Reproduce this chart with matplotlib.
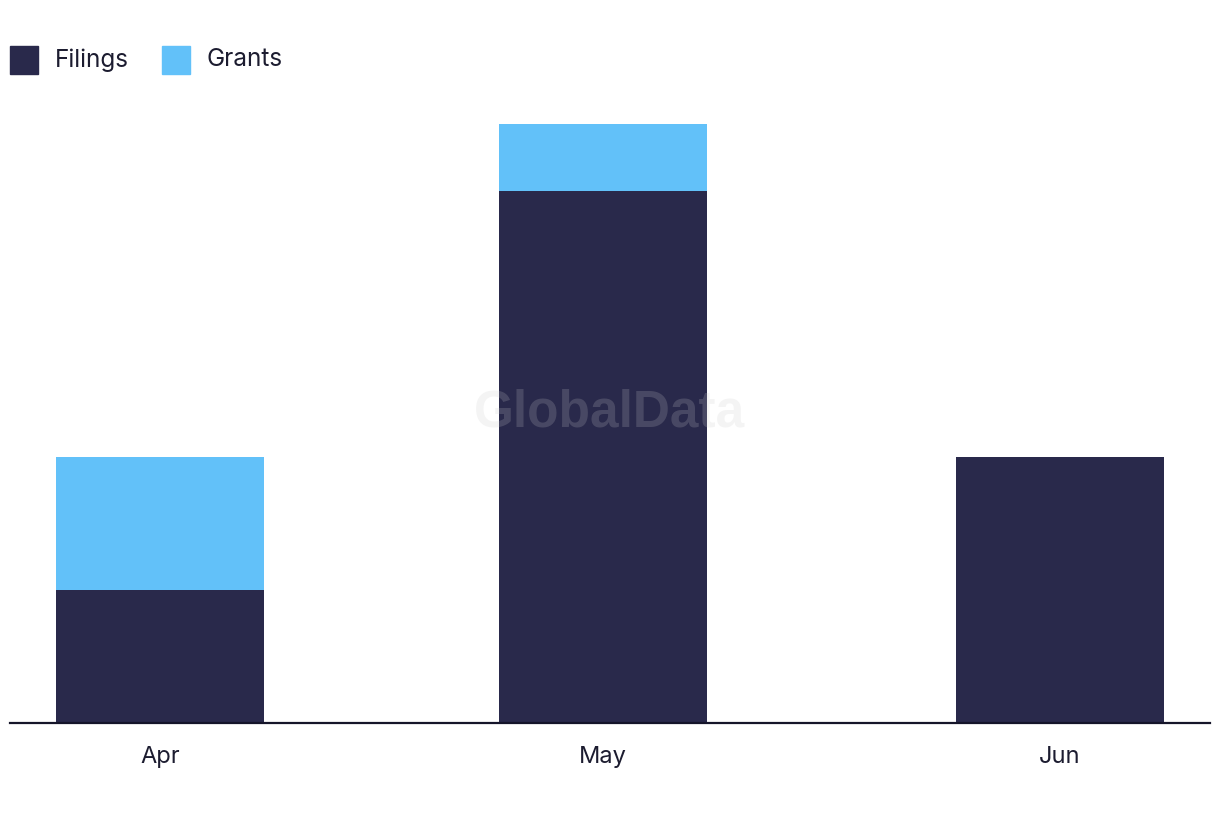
import matplotlib
matplotlib.use("Agg")
import matplotlib.pyplot as plt
import matplotlib.dates as mdates
from matplotlib.patches import Rectangle
import datetime as dt

months = ["2024-04-01", "2024-05-01", "2024-06-01"]
month_labels = ["Apr", "May", "Jun"]
filings = [2, 8, 4]
grants = [2, 1, 0]

navy = "#29294b"
blue = "#62c1f9"
text_color = "#1c1c30"

plt.rcParams['font.family'] = ['Inter', 'DejaVu Sans']

fig = plt.figure(figsize=(12.2, 8.22), dpi=100)
ax = fig.add_axes([10/1220, (822-723)/822, 1200/1220, (723-124)/822])

dates = [dt.datetime.strptime(m, "%Y-%m-%d") for m in months]
x = mdates.date2num(dates)
width = 14.1
ax.bar(x, filings, width=width, color=navy, zorder=2)
ax.bar(x, grants, width=width, bottom=filings, color=blue, zorder=2)

ax.set_xlim(x[0] - 10.17, x[-1] + 10.17)
ax.set_ylim(0, 9)
ax.set_xticks(x)
ax.set_xticklabels(month_labels, fontsize=17, color=text_color)
ax.tick_params(axis='x', length=0, pad=16.5)
ax.set_yticks([])
for s in ["top", "right", "left"]:
    ax.spines[s].set_visible(False)
ax.spines["bottom"].set_color("#15152a")
ax.spines["bottom"].set_linewidth(1.6)
ax.spines["bottom"].set_zorder(3)

# legend
legend_items = [("Filings", navy, 10, 55), ("Grants", blue, 162, 207)]
for label, col, sx, tx in legend_items:
    fig.patches.append(Rectangle((sx/1220, 1 - 74/822), 28/1220, 28/822,
                                 transform=fig.transFigure, color=col))
    fig.text(tx/1220, 1 - 60/822, label, fontsize=17.5, color=text_color,
             va='center', ha='left')

# watermark
fig.text(610/1220, 1 - 413/822, "GlobalData", fontsize=37, fontweight='bold',
         family=['Liberation Sans', 'DejaVu Sans'], color='#c9c9c9', alpha=0.2,
         ha='center', va='center', zorder=10)

fig.savefig("out.png", dpi=100)
